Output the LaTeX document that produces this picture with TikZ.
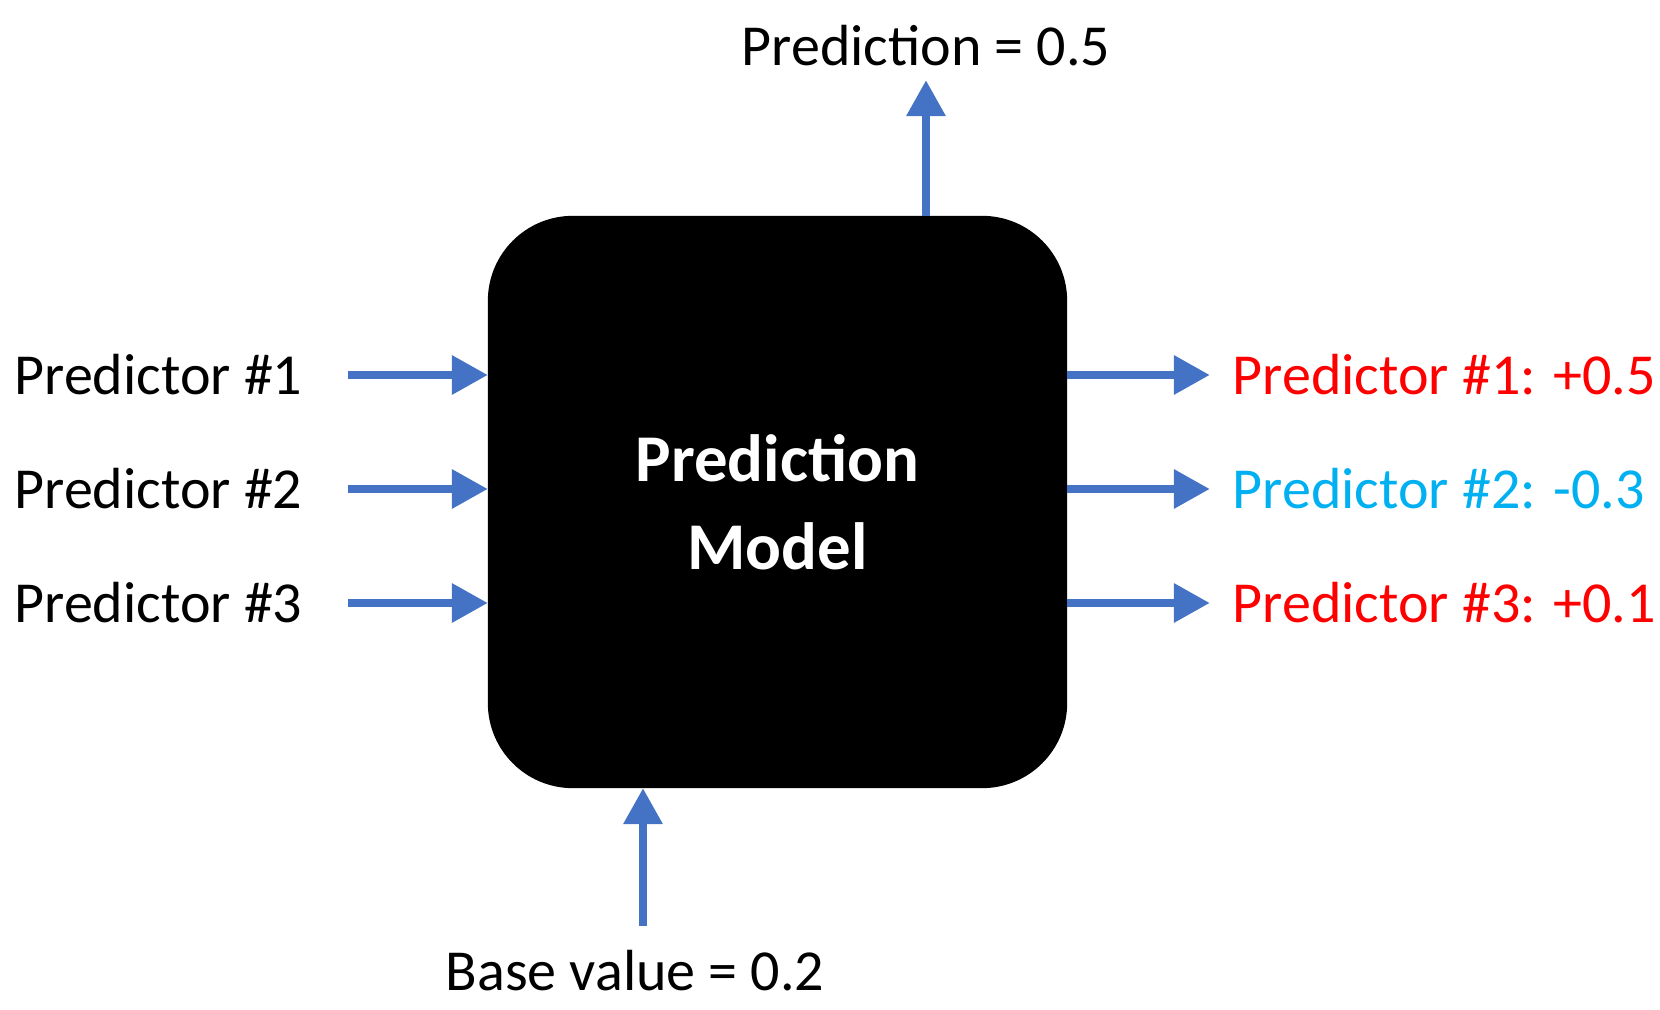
\documentclass[tikz,border=0pt]{standalone}
\usepackage{fontspec}
\setmainfont{Carlito}
\usetikzlibrary{arrows.meta}
\definecolor{ab}{HTML}{4472C4}
\definecolor{rd}{HTML}{FF0000}
\definecolor{cy}{HTML}{00B0F0}
\begin{document}
\begin{tikzpicture}[x=0.01cm,y=-0.01cm,
  arr/.style={draw=ab,line width=2.5pt,-{Triangle[length=0.36cm,width=0.37cm]}},
  lab/.style={font=\fontsize{16.5}{20}\selectfont,inner sep=0pt}]
\useasboundingbox (0,0) rectangle (1660,1010);
\node[fill=black,rounded corners=0.85cm,minimum width=5.79cm,minimum height=5.72cm,inner sep=0pt,text=white,font=\fontsize{19}{23}\selectfont\bfseries,align=center] (m) at (777.5,502) {Prediction\\[2pt]Model};
\foreach \i/\y in {1/375,2/489,3/603}{
  \node[lab,anchor=east] (l\i) at (303,\y) {Predictor \#\i};
  \coordinate (ls\i) at (348,\y);
  \coordinate (le\i) at (488,\y);
  \draw[arr] (ls\i) -- (le\i);
  \coordinate (rs\i) at (1067,\y);
  \coordinate (re\i) at (1210,\y);
  \draw[arr] (rs\i) -- (re\i);
}
\node[lab,anchor=west,text=rd] (r1) at (1232,375) {Predictor \#1: +0.5};
\node[lab,anchor=west,text=cy] (r2) at (1232,489) {Predictor \#2: -0.3};
\node[lab,anchor=west,text=rd] (r3) at (1232,603) {Predictor \#3: +0.1};
\node[lab] (top) at (926,46) {Prediction = 0.5};
\coordinate (ts) at (926,216);
\coordinate (te) at (926,80);
\draw[arr] (ts) -- (te);
\node[lab] (bot) at (635,971) {Base value = 0.2};
\coordinate (bs) at (643,926);
\coordinate (be) at (643,788);
\draw[arr] (bs) -- (be);
\end{tikzpicture}
\end{document}
